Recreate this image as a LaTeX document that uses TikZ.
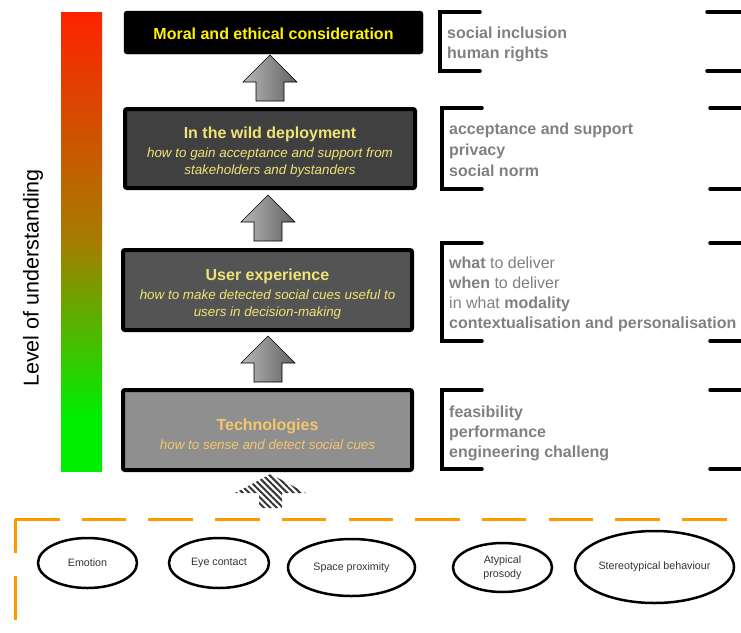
\documentclass[tikz,border=0pt]{standalone}
\usepackage{fontspec}
\setmainfont{Liberation Sans}
\usepackage{xcolor}
\usepackage{tikz}
\usetikzlibrary{positioning, calc, shapes.geometric, patterns.meta}

\definecolor{lvlred}{RGB}{255,34,0}
\definecolor{lvlmid}{RGB}{165,125,0}
\definecolor{lvlgreen}{RGB}{0,238,0}
\definecolor{titleyellow}{RGB}{240,228,118}
\definecolor{techorange}{RGB}{246,198,106}
\definecolor{facetgray}{RGB}{128,128,128}
\definecolor{cueorange}{RGB}{255,153,0}

\pgfdeclareverticalshading{understanding}{100bp}{color(0bp)=(lvlgreen); color(25bp)=(lvlgreen); color(31bp)=(lvlgreen); color(50bp)=(lvlmid); color(75bp)=(lvlred); color(100bp)=(lvlred)}

\tikzset{
    stage/.style={draw=black, line width=4pt, rounded corners=2pt, minimum width=289pt,
        minimum height=80pt, inner sep=0pt, align=center,
        font=\fontsize{13.4}{17}\selectfont\itshape},
    facet/.style={anchor=north west, inner sep=0pt, align=left, text=facetgray,
        font=\fontsize{16}{20}\selectfont},
    bracket/.style={draw=black, line width=3.5pt, line cap=round},
    cue/.style={draw=black, ellipse, line width=2.5pt, inner sep=0pt, align=center,
        text=black!80, font=\fontsize{10.7}{14}\selectfont},
    cuebound/.style={draw=cueorange, line width=3pt, dash pattern=on 44.5pt off 22.2pt},
    pics/uparrow/.style={code={
        \path[draw=black, line width=0.6pt, left color=black!28, right color=black!62]
            (0,0) -- (27,27) -- (14,27) -- (14,46) -- (-14,46) -- (-14,27) -- (-27,27) -- cycle;
    }}
}

\newcommand{\stagehead}[1]{{\fontsize{16}{19}\selectfont\bfseries\upshape\rule{0pt}{19.5pt}#1}}

\begin{document}
\begin{tikzpicture}[x=1pt, y=-1pt]
    \useasboundingbox (0,0) rectangle (741,632);

    % level bar
    \shade[shading=understanding] (61,12) rectangle (102,471);
    \node[rotate=90, font=\fontsize{21.5}{24}\selectfont] (levellabel) at (33,278) {Level of understanding};

    % stages
    \node[draw=black, fill=black, rounded corners=3pt, minimum width=299pt, minimum height=43pt,
        inner sep=0pt, text=yellow, font=\fontsize{16}{19}\selectfont\bfseries]
        (moral) at (273.5,32.5) {\rule{0pt}{13.5pt}Moral and ethical consideration};
    \node[stage, fill=black!75, minimum width=290pt, minimum height=79pt, text=titleyellow]
        (wild) at (270,148.5) {\stagehead{In the wild deployment}\\[2pt]
        how to gain acceptance and support from\\ stakeholders and bystanders};
    \node[stage, fill=black!67, text=titleyellow]
        (ux) at (267.5,290) {\stagehead{User experience}\\[2pt]
        how to make detected social cues useful to\\ users in decision-making};
    \node[stage, fill=black!44, text=techorange]
        (tech) at (267.5,430) {\stagehead{Technologies}\\[2pt]
        how to sense and detect social cues};

    \pic at ($(wild.north)+(0,-52)$) {uparrow};
    \pic at ($(ux.north)+(0.5,-53)$) {uparrow};
    \pic at ($(tech.north)+(0.5,-52)$) {uparrow};
    \path[pattern={Lines[angle=-45, distance=4.5pt, line width=2pt]}, pattern color=black!80]
        ($(tech.south)+(3,2)$) -- ++(35.5,19) -- ++(-24,0) -- ++(0,15) -- ++(-23,0)
        -- ++(0,-15) -- ++(-24,0) -- cycle;

    % facets
    \draw[bracket] (480,12) -- (440,12) -- (440,71) -- (480,71);
    \draw[bracket] (707,12) -- (741,12) (707,71) -- (741,71);
    \node[facet] (moralfacets) at (447,26.5) {\textbf{social inclusion}\\ \textbf{human rights}};

    \draw[bracket] (482,108) -- (442,108) -- (442,189) -- (482,189);
    \draw[bracket] (710,108) -- (741,108) (710,189) -- (741,189);
    \node[facet, font=\fontsize{16}{21}\selectfont] (wildfacets) at (449,122.5)
        {\textbf{acceptance and support}\\ \textbf{privacy}\\ \textbf{social norm}};

    \draw[bracket] (482,243) -- (442,243) -- (442,341) -- (482,341);
    \draw[bracket] (710,243) -- (741,243) (710,341) -- (741,341);
    \node[facet] (uxfacets) at (449,256.5)
        {\textbf{what} to deliver\\ \textbf{when} to deliver\\ in what \textbf{modality}\\
        \textbf{contextualisation and personalisation}};

    \draw[bracket] (482,390) -- (442,390) -- (442,469) -- (482,469);
    \draw[bracket] (710,390) -- (741,390) (710,469) -- (741,469);
    \node[facet] (techfacets) at (449,405.5)
        {\textbf{feasibility}\\ \textbf{performance}\\ \textbf{engineering challeng}};

    % social cues
    \draw[cuebound] (15,519) -- (727,519);
    \draw[cuebound] (15,620) -- (15,519);
    \node[cue, minimum width=99pt, minimum height=50pt] (emotion) at (87.5,563) {Emotion};
    \node[cue, minimum width=100pt, minimum height=50pt] (eye) at (219,563) {Eye contact};
    \node[cue, minimum width=127pt, minimum height=57pt] (space) at (351.5,567.5) {Space proximity};
    \node[cue, minimum width=99pt, minimum height=49pt] (prosody) at (502.5,567.5) {Atypical\\prosody};
    \node[cue, minimum width=159pt, minimum height=72pt] (stereo) at (654.5,567) {Stereotypical behaviour};
\end{tikzpicture}
\end{document}
